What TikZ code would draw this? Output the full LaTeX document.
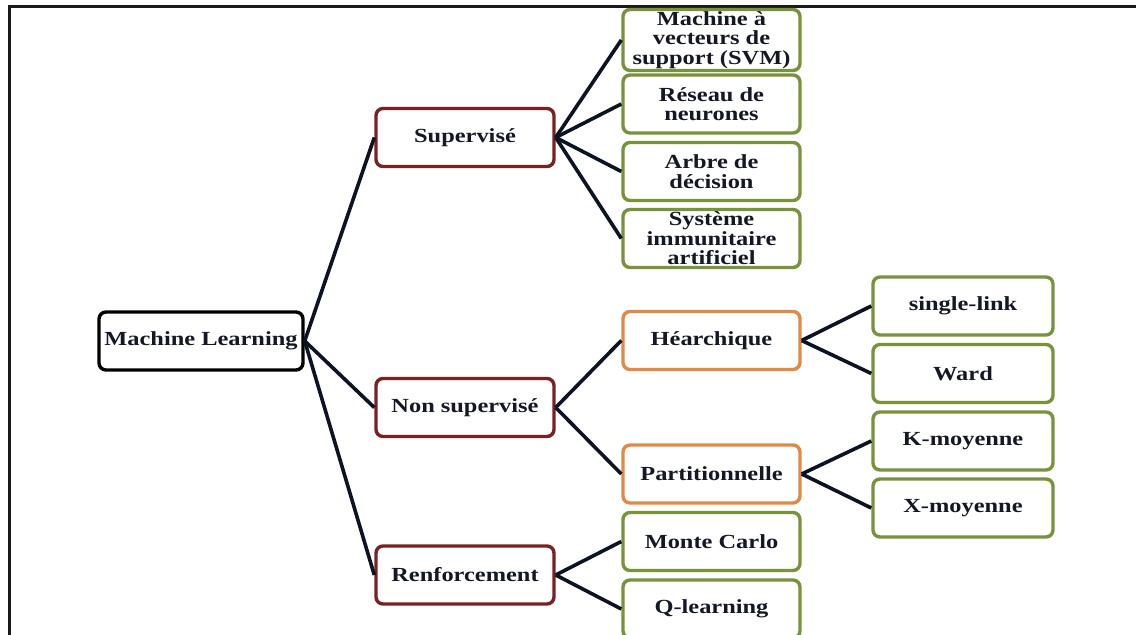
\documentclass[tikz,border=0pt]{standalone}
\usepackage{fontspec}
\setmainfont{Liberation Serif}[FakeStretch=1.22]
\definecolor{txt}{HTML}{141826}
\definecolor{lnk}{HTML}{0C1322}
\definecolor{redb}{HTML}{7A2222}
\definecolor{greenb}{HTML}{77933C}
\definecolor{orangeb}{HTML}{E08A45}
\tikzset{
  box/.style={draw, line width=1.7pt, rounded corners=3.5pt, fill=white, align=center,
    font=\bfseries\fontsize{10}{9.7}\selectfont, text=txt, inner sep=1pt},
  rootbox/.style={box, draw=black, minimum width=102pt, minimum height=29pt},
  lvlone/.style={box, draw=redb, minimum width=89pt, minimum height=29pt},
  greenbox/.style={box, draw=greenb, minimum width=88.5pt, minimum height=29pt},
  orangebox/.style={box, draw=orangeb, minimum width=88.5pt, minimum height=29pt},
  leafbox/.style={box, draw=greenb, minimum width=90pt, minimum height=29pt},
  link/.style={draw=lnk, line width=1.8pt},
  frameline/.style={draw=black!90, line width=1.5pt}
}
\begin{document}
\begin{tikzpicture}[x=0.5pt,y=-0.5pt]
\useasboundingbox (0,0) rectangle (1136,635);
\coordinate (fbl) at (9,640);
\coordinate (ftl) at (9,7);
\coordinate (ftr) at (1140,7);
\draw[frameline] (fbl) -- (ftl) -- (ftr);

\node[rootbox] (ml) at (201,341) {Machine Learning};

\node[lvlone] (sup) at (465,137.5) {Supervisé};
\node[lvlone] (nsup) at (465,407.5) {Non supervisé};
\node[lvlone] (renf) at (465,575) {Renforcement};

\node[greenbox] (svm) at (711.5,40) {Machine à\\vecteurs de\\support (SVM)};
\node[greenbox] (rn) at (711.5,104) {Réseau de\\neurones};
\node[greenbox] (ad) at (711.5,171.5) {Arbre de\\décision};
\node[greenbox] (sia) at (711.5,238.5) {Système\\immunitaire\\artificiel};

\node[orangebox] (hier) at (711.5,340.5) {Héarchique};
\node[orangebox] (part) at (711.5,474) {Partitionnelle};

\node[greenbox] (mc) at (711.5,541.5) {Monte Carlo};
\node[greenbox] (ql) at (711.5,609) {Q-learning};

\node[leafbox] (sl) at (963,306) {single-link};
\node[leafbox] (ward) at (963,373.5) {Ward};
\node[leafbox] (km) at (963,441) {K-moyenne};
\node[leafbox] (xm) at (963,508) {X-moyenne};

\foreach \t in {sup,nsup,renf} \draw[link] (ml.east) -- (\t.west);
\foreach \t in {svm,rn,ad,sia} \draw[link] (sup.east) -- (\t.west);
\foreach \t in {hier,part} \draw[link] (nsup.east) -- (\t.west);
\foreach \t in {mc,ql} \draw[link] (renf.east) -- (\t.west);
\foreach \t in {sl,ward} \draw[link] (hier.east) -- (\t.west);
\foreach \t in {km,xm} \draw[link] (part.east) -- (\t.west);
\end{tikzpicture}
\end{document}
